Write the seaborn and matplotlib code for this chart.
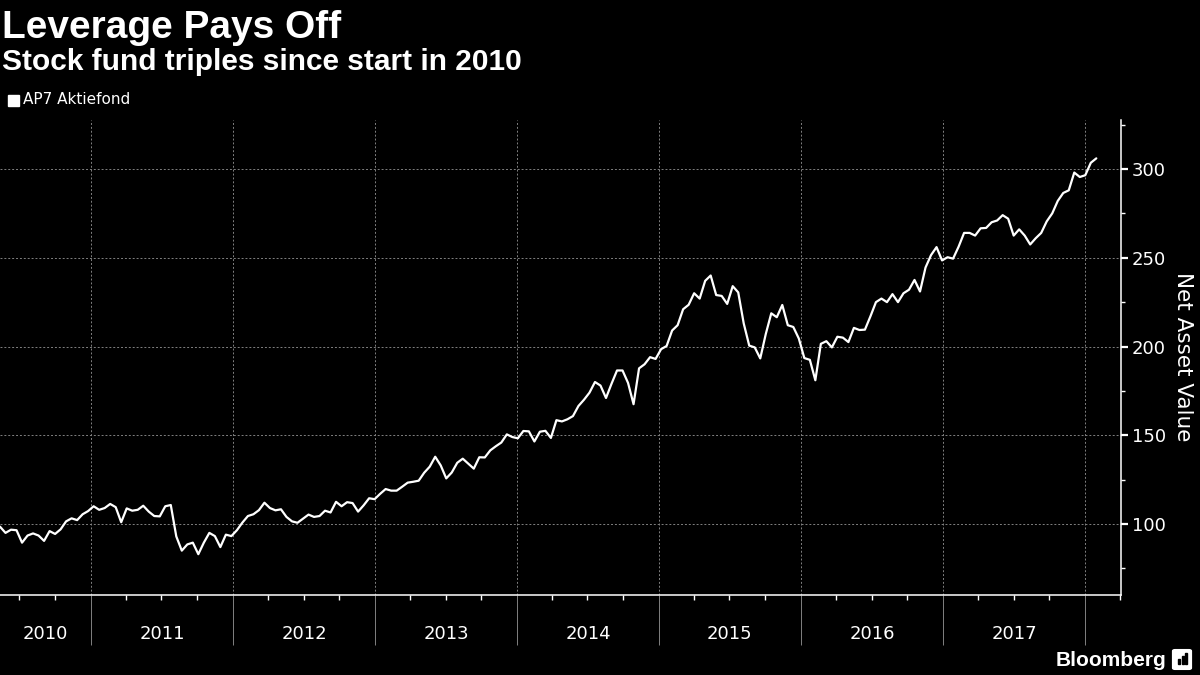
import pandas as pd
import matplotlib.pyplot as plt
import matplotlib.dates as mdates
from matplotlib.ticker import MultipleLocator
from matplotlib.patches import Rectangle, FancyBboxPatch
from matplotlib import font_manager
import seaborn as sns

# 1. Textos do gráfico
titulo = 'Leverage Pays Off'
subtitulo = 'Stock fund triples since start in 2010'
nome_serie = 'AP7 Aktiefond'
rotulo_y = 'Net Asset Value'
anos = [2010, 2011, 2012, 2013, 2014, 2015, 2016, 2017]
ticks_y = [100, 150, 200, 250, 300]

# 2. Datas (série quinzenal, de maio/2010 até jan/2018)
data_inicio = '2010-05-12'
data_fim = '2018-01-30'

# 3. Valores (NAV)
nav_bloco1 = [98.5, 95, 96.8, 96.5, 89.5, 93.5, 94.7, 93.5, 90.5, 96,
              94.4, 97, 101.5, 103.2, 102.2, 105.5, 107.3, 110, 108, 109,
              111.3, 109.5, 101, 108.8, 107.5, 108, 110.3, 107, 104.5, 104.3,
              110, 110.7, 93, 85, 88.5, 89.5, 83, 89.5, 95, 93.2,
              87, 94, 93.2, 96.5, 100.8, 104.5, 105.5, 107.8, 112, 109]
nav_bloco2 = [107.7, 108.3, 104, 101.5, 100.7, 103, 105.3, 104, 104.5, 107.5,
              106.5, 112.5, 110, 112.3, 111.8, 107, 110.5, 114.5, 114, 117,
              119.7, 118.8, 118.8, 121, 123.3, 123.8, 124.4, 128.9, 132.3, 137.9,
              133, 125.7, 129, 134.5, 136.8, 134, 131.2, 137.6, 137.5, 141.5,
              143.8, 145.9, 150.5, 149, 148.3, 152.4, 152.2, 146.5, 152, 152.5]
nav_bloco3 = [148.5, 158.5, 157.8, 159, 160.8, 166.5, 170, 174, 180, 178,
              171, 179, 186.5, 186.5, 179.5, 167.5, 187.7, 190, 194, 193,
              198.5, 200.3, 209, 212, 221, 223.5, 230, 227, 237, 240,
              229, 228.5, 224, 234, 230.5, 213, 200.5, 199.5, 193.3, 207,
              218.7, 216.5, 223.4, 212, 211, 204.5, 193.5, 192.5, 181, 201.5]
nav_bloco4 = [203, 199.5, 205.5, 205, 202.5, 210.5, 209.3, 209.5, 217, 225,
              227, 225, 229.5, 225, 230, 232, 237.5, 231, 244.5, 251.5,
              256, 248.5, 250.3, 249.5, 256.2, 264, 264, 262.5, 266.6, 266.8,
              270, 271, 274, 272, 262.5, 266, 262.5, 257.5, 261, 264,
              270.5, 275, 282, 286.5, 288, 298, 295.5, 296.5, 303.5, 306]

valores = nav_bloco1 + nav_bloco2 + nav_bloco3 + nav_bloco4
datas = pd.date_range(data_inicio, data_fim, periods=len(valores))
df = pd.DataFrame({'data': datas, 'nav': valores})

# 4. Estilo
sns.set_style('dark', rc={'axes.facecolor': 'black', 'figure.facecolor': 'black',
                          'text.color': 'white', 'axes.labelcolor': 'white',
                          'xtick.color': 'white', 'ytick.color': 'white',
                          'xtick.bottom': True, 'ytick.right': True})
plt.rcParams['font.family'] = ['DejaVu Sans']
nomes_fontes = {f.name for f in font_manager.fontManager.ttflist}
fonte_estreita = 'Liberation Sans Narrow' if 'Liberation Sans Narrow' in nomes_fontes else 'DejaVu Sans'
tam_anos = 17 if fonte_estreita == 'Liberation Sans Narrow' else 13
fonte_titulo = 'Liberation Sans' if 'Liberation Sans' in nomes_fontes else 'DejaVu Sans'

fig = plt.figure(figsize=(12, 6.75), dpi=100)
ax = fig.add_axes([0, 0.1185, 0.934, 0.7037])

# 5. Linha
sns.lineplot(data=df, x='data', y='nav', ax=ax, color='white', linewidth=1.6)
ax.set_xlabel('')
ax.set_ylabel('')

# 6. Eixos
ax.set_xlim(pd.Timestamp(data_inicio), pd.Timestamp('2018-04-03'))
ax.set_ylim(60, 327.6)
ax.yaxis.tick_right()
ax.set_yticks(ticks_y)
ax.yaxis.set_minor_locator(MultipleLocator(25))
ax.tick_params(axis='y', which='both', right=True, left=False)
ax.tick_params(axis='y', which='major', length=5, width=1.6, colors='white',
               labelsize=13, pad=3)
ax.tick_params(axis='y', which='minor', length=3, width=1, colors='white')

ax.xaxis.set_major_locator(mdates.YearLocator())
ax.xaxis.set_minor_locator(mdates.MonthLocator(bymonth=[4, 7, 10]))
ax.tick_params(axis='x', which='both', bottom=True, direction='out')
ax.tick_params(axis='x', which='major', length=36, width=0.7, color='#808080',
               labelbottom=False)
ax.tick_params(axis='x', which='minor', length=3.6, width=1, color='white')

for lado in ['left', 'top']:
    ax.spines[lado].set_visible(False)
for lado in ['bottom', 'right']:
    ax.spines[lado].set_visible(True)
    ax.spines[lado].set_color('white')
    ax.spines[lado].set_linewidth(1.1)

ax.grid(True, which='major', axis='both', color='#808080',
        linestyle=(0, (2, 2)), linewidth=0.7)
ax.set_axisbelow(True)

# 7. Rótulos dos anos (centro da parte visível de cada ano)
esq, dir_ = ax.get_xlim()
for ano in anos:
    ini = max(mdates.date2num(pd.Timestamp(f'{ano}-01-01')), esq)
    fim = min(mdates.date2num(pd.Timestamp(f'{ano + 1}-01-01')), dir_)
    ax.text((ini + fim) / 2, -0.082, str(ano), transform=ax.get_xaxis_transform(),
            ha='center', va='center', color='white', fontsize=tam_anos,
            family=fonte_estreita)

# 8. Títulos, legenda e rótulo do eixo y
fig.text(2 / 1200, 1 - 38 / 675, titulo, fontsize=28, fontweight='bold',
         family=fonte_titulo, color='white', va='baseline')
fig.text(2 / 1200, 1 - 70 / 675, subtitulo, fontsize=21.5, fontweight='bold',
         family=fonte_titulo, color='white', va='baseline')
fig.add_artist(Rectangle((8 / 1200, 1 - 106 / 675), 11 / 1200, 11 / 675,
                         transform=fig.transFigure, color='white'))
fig.text(23 / 1200, 1 - 100 / 675, nome_serie, fontsize=11, color='white',
         va='center')
fig.text(1183 / 1200, 1 - 357 / 675, rotulo_y, fontsize=15.5, color='white',
         rotation=270, ha='center', va='center')

# 9. Marca Bloomberg
fig.text(1166 / 1200, 1 - 660 / 675, 'Bloomberg', fontsize=15, fontweight='bold',
         family=fonte_titulo, color='white', ha='right', va='center')
fig.add_artist(FancyBboxPatch((1175 / 1200, 1 - 668 / 675), 14 / 1200, 17 / 675,
                              boxstyle='round,pad=0.002', transform=fig.transFigure,
                              color='white'))
for i, h in enumerate([5, 8, 11]):
    fig.add_artist(Rectangle(((1178 + i * 3.5) / 1200, 1 - 664 / 675), 2 / 1200, h / 675,
                             transform=fig.transFigure, color='black'))

fig.savefig('out.png', dpi=100, facecolor='black')
